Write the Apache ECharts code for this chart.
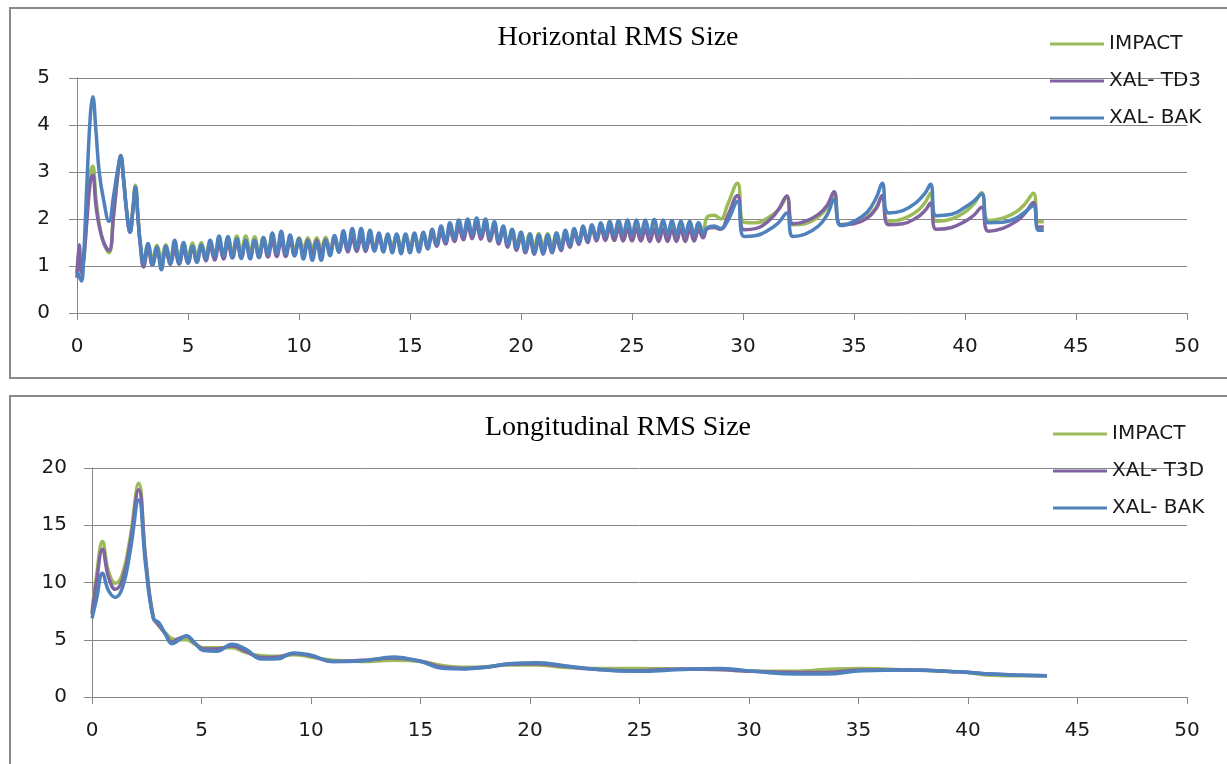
<!DOCTYPE html>
<html>
<head>
<meta charset="utf-8">
<script src="https://cdn.jsdelivr.net/npm/echarts@6.0.0/dist/echarts.min.js"></script>
<style>
  html, body { margin: 0; padding: 0; background: #fff; }
  #chart { width: 1227px; height: 764px; }
</style>
</head>
<body>
<div id="chart"></div>
<script>
// ---- Horizontal RMS size (top panel) ----
var hX = [
  0, 0.1, 0.2, 0.3, 0.45, 0.6, 0.71, 0.85, 1.0, 1.2, 1.44, 1.65, 1.85, 1.97, 2.1, 2.25, 2.39, 2.52, 2.63, 2.75, 2.85,
  3.0, 3.2, 3.4, 3.6, 3.8, 4.0, 4.2, 4.4, 4.6, 4.8, 5.0, 5.2, 5.4, 5.6, 5.8, 6.0, 6.2, 6.4, 6.6, 6.8,
  7.0, 7.2, 7.4, 7.6, 7.8, 8.0, 8.2, 8.4, 8.6, 8.8, 9.0, 9.2, 9.4, 9.6, 9.8, 10.0, 10.2, 10.4, 10.6, 10.8,
  11.0, 11.2, 11.4, 11.6, 11.8, 12.0, 12.2, 12.4, 12.6, 12.8, 13.0, 13.2, 13.4, 13.6, 13.8, 14.0, 14.2, 14.4, 14.6, 14.8,
  15.0, 15.2, 15.4, 15.6, 15.8, 16.0, 16.2, 16.4, 16.6, 16.8, 17.0, 17.2, 17.4, 17.6, 17.8, 18.0, 18.2, 18.4, 18.6, 18.8,
  19.0, 19.2, 19.4, 19.6, 19.8, 20.0, 20.2, 20.4, 20.6, 20.8, 21.0, 21.2, 21.4, 21.6, 21.8, 22.0, 22.2, 22.4, 22.6, 22.8,
  23.0, 23.2, 23.4, 23.6, 23.8, 24.0, 24.2, 24.4, 24.6, 24.8, 25.0, 25.2, 25.4, 25.6, 25.8, 26.0, 26.2, 26.4, 26.6, 26.8,
  27.0, 27.2, 27.4, 27.6, 27.8, 28.0, 28.2,
  28.4, 28.7, 29.0, 29.3, 29.75, 30.05, 30.6, 31.2, 31.6, 31.97, 32.25, 32.8, 33.4, 33.8, 34.1, 34.4, 35.0, 35.6, 36.0, 36.27,
  36.55, 37.2, 37.8, 38.2, 38.45, 38.7, 39.4, 40.0, 40.4, 40.75, 41.05, 41.7, 42.3, 42.7, 43.08, 43.3, 43.55
];
var hImpact = [
  0.85, 1.3, 0.9, 1.15, 2.1, 2.95, 3.12, 2.45, 1.9, 1.5, 1.28, 2.1, 3.0, 3.32, 2.85, 2.12, 1.72, 2.25, 2.72, 2.05, 1.48,
  1.14, 1.45, 1.15, 1.44, 1.16, 1.45, 1.17, 1.46, 1.19, 1.48, 1.20, 1.49, 1.21, 1.50, 1.22, 1.52, 1.24, 1.55, 1.27, 1.60,
  1.29, 1.64, 1.30, 1.64, 1.30, 1.62, 1.30, 1.61, 1.31, 1.61, 1.32, 1.61, 1.33, 1.61, 1.35, 1.60, 1.36, 1.60, 1.37, 1.60,
  1.37, 1.61, 1.38, 1.62, 1.39, 1.63, 1.40, 1.64, 1.40, 1.64, 1.40, 1.64, 1.41, 1.65, 1.42, 1.66, 1.42, 1.67, 1.42, 1.67,
  1.43, 1.68, 1.44, 1.69, 1.46, 1.72, 1.50, 1.76, 1.54, 1.80, 1.58, 1.84, 1.61, 1.87, 1.62, 1.88, 1.61, 1.87, 1.58, 1.84,
  1.54, 1.80, 1.50, 1.76, 1.46, 1.72, 1.43, 1.69, 1.42, 1.69, 1.42, 1.69, 1.43, 1.70, 1.46, 1.73, 1.49, 1.76, 1.52, 1.79,
  1.54, 1.82, 1.55, 1.84, 1.55, 1.84, 1.55, 1.84, 1.55, 1.84, 1.55, 1.84, 1.55, 1.85, 1.56, 1.85, 1.56, 1.86, 1.57, 1.87,
  1.58, 1.88, 1.59, 1.90, 1.60, 1.92, 1.75,
  2.05, 2.08, 2.0, 2.3, 2.76, 1.93, 1.92, 2.05, 2.2, 2.45, 1.88, 1.90, 2.05, 2.25, 2.5, 1.88, 1.92, 2.05, 2.25, 2.48,
  1.95, 2.0, 2.15, 2.35, 2.55, 1.95, 2.0, 2.15, 2.32, 2.56, 1.97, 2.02, 2.15, 2.32, 2.55, 1.94, 1.94
];
var hTd3 = [
  0.75, 1.45, 0.85, 1.1, 2.0, 2.8, 2.93, 2.3, 1.85, 1.5, 1.33, 2.1, 3.0, 3.35, 2.85, 2.1, 1.72, 2.2, 2.65, 2.0, 1.45,
  0.98, 1.35, 1.02, 1.32, 1.03, 1.33, 1.03, 1.33, 1.04, 1.35, 1.06, 1.38, 1.09, 1.41, 1.11, 1.43, 1.13, 1.45, 1.15, 1.48,
  1.17, 1.50, 1.18, 1.52, 1.18, 1.52, 1.18, 1.52, 1.19, 1.53, 1.20, 1.53, 1.20, 1.54, 1.22, 1.54, 1.24, 1.55, 1.25, 1.55,
  1.26, 1.56, 1.28, 1.57, 1.29, 1.59, 1.30, 1.60, 1.31, 1.60, 1.31, 1.60, 1.32, 1.61, 1.33, 1.62, 1.33, 1.62, 1.33, 1.62,
  1.34, 1.63, 1.35, 1.65, 1.38, 1.68, 1.42, 1.72, 1.47, 1.77, 1.52, 1.82, 1.56, 1.86, 1.58, 1.88, 1.57, 1.87, 1.53, 1.83,
  1.47, 1.77, 1.40, 1.70, 1.33, 1.62, 1.28, 1.57, 1.25, 1.55, 1.25, 1.55, 1.28, 1.58, 1.33, 1.64, 1.40, 1.70, 1.46, 1.76,
  1.50, 1.80, 1.53, 1.82, 1.54, 1.82, 1.54, 1.80, 1.53, 1.79, 1.53, 1.79, 1.53, 1.78, 1.52, 1.78, 1.52, 1.78, 1.52, 1.78,
  1.52, 1.78, 1.52, 1.78, 1.53, 1.77, 1.60,
  1.8, 1.82, 1.78, 2.05, 2.5, 1.77, 1.8, 1.98, 2.2, 2.49, 1.9, 1.95, 2.1, 2.3, 2.58, 1.88, 1.9, 2.02, 2.22, 2.5,
  1.88, 1.9, 2.02, 2.18, 2.34, 1.78, 1.82, 1.95, 2.08, 2.25, 1.74, 1.8, 1.95, 2.12, 2.35, 1.83, 1.83
];
var hBak = [
  0.88, 0.78, 0.68, 1.2, 2.8, 4.2, 4.6, 3.9, 3.0, 2.4, 1.95, 2.5, 3.1, 3.33, 2.8, 2.1, 1.72, 2.2, 2.68, 2.0, 1.5,
  1.05, 1.48, 1.02, 1.40, 0.92, 1.42, 1.05, 1.55, 1.05, 1.50, 1.06, 1.42, 1.08, 1.45, 1.15, 1.55, 1.20, 1.64, 1.22, 1.63,
  1.18, 1.58, 1.16, 1.55, 1.15, 1.55, 1.18, 1.60, 1.25, 1.70, 1.28, 1.74, 1.26, 1.66, 1.22, 1.58, 1.15, 1.52, 1.12, 1.50,
  1.12, 1.55, 1.22, 1.65, 1.30, 1.75, 1.36, 1.80, 1.38, 1.80, 1.36, 1.76, 1.32, 1.70, 1.30, 1.68, 1.28, 1.68, 1.26, 1.68,
  1.28, 1.70, 1.30, 1.72, 1.36, 1.78, 1.45, 1.85, 1.52, 1.92, 1.60, 1.98, 1.66, 2.00, 1.68, 2.02, 1.66, 2.00, 1.60, 1.94,
  1.52, 1.85, 1.45, 1.78, 1.38, 1.72, 1.32, 1.68, 1.28, 1.66, 1.28, 1.66, 1.30, 1.70, 1.38, 1.76, 1.45, 1.80, 1.50, 1.85,
  1.55, 1.88, 1.60, 1.92, 1.64, 1.95, 1.66, 1.97, 1.68, 1.98, 1.68, 1.98, 1.68, 1.98, 1.68, 1.99, 1.68, 1.98, 1.68, 1.97,
  1.68, 1.96, 1.68, 1.95, 1.68, 1.92, 1.70,
  1.82, 1.85, 1.8, 1.95, 2.37, 1.63, 1.65, 1.78, 1.92, 2.13, 1.63, 1.68, 1.85, 2.1, 2.41, 1.86, 1.95, 2.15, 2.45, 2.76,
  2.13, 2.18, 2.35, 2.55, 2.74, 2.07, 2.1, 2.25, 2.38, 2.53, 1.92, 1.93, 2.02, 2.15, 2.28, 1.76, 1.76
];

// ---- Longitudinal RMS size (bottom panel) ----
var lX = [
  0, 0.2, 0.48, 0.75, 1.07, 1.4, 1.75, 2.13, 2.45, 2.8, 3.05, 3.35, 3.65, 3.95, 4.3, 4.7, 5.1, 5.7, 6.4, 7.0,
  7.75, 8.5, 9.2, 10.0, 11.0, 12.3, 13.8, 15.0, 16.0, 17.0, 18.0, 19.0, 20.3, 21.5, 22.8, 24.8, 27.0, 28.6, 30.2, 32.2,
  33.5, 35.2, 37.3, 39.6, 41.1, 42.5, 43.6
];
var lImpact = [
  7.45, 10.5, 13.57, 11.0, 9.93, 10.8, 14.0, 18.66, 12.0, 7.0, 6.2, 5.6, 5.1, 5.0, 5.0, 4.6, 4.3, 4.3, 4.3, 3.9,
  3.6, 3.55, 3.7, 3.5, 3.2, 3.1, 3.2, 3.1, 2.75, 2.6, 2.65, 2.8, 2.8, 2.6, 2.5, 2.5, 2.45, 2.4, 2.25, 2.25,
  2.4, 2.5, 2.35, 2.2, 1.9, 1.85, 1.85
];
var lT3d = [
  7.2, 10.0, 12.9, 10.5, 9.4, 10.3, 13.5, 18.1, 12.0, 6.9, 6.3, 5.5, 4.8, 5.1, 5.3, 4.7, 4.2, 4.2, 4.45, 4.0,
  3.45, 3.5, 3.8, 3.6, 3.1, 3.2, 3.4, 3.15, 2.6, 2.5, 2.6, 2.85, 2.9, 2.7, 2.45, 2.3, 2.45, 2.4, 2.25, 2.15,
  2.15, 2.35, 2.35, 2.2, 2.0, 1.9, 1.85
];
var lBak = [
  6.87, 8.5, 10.8, 9.3, 8.7, 9.6, 12.8, 17.2, 11.5, 6.87, 6.5, 5.5, 4.65, 4.95, 5.35, 4.7, 4.05, 4.0, 4.6, 4.2,
  3.32, 3.35, 3.85, 3.65, 3.1, 3.15, 3.5, 3.1, 2.5, 2.45, 2.6, 2.9, 3.0, 2.75, 2.45, 2.25, 2.4, 2.5, 2.25, 2.0,
  2.0, 2.3, 2.35, 2.2, 2.0, 1.9, 1.85
];

var GREEN = '#9BBB59', PURPLE = '#8064A2', BLUE = '#4F81BD';
var GRAY = '#868686';

function pairs(xs, ys) {
  return xs.map(function (x, i) { return [x, ys[i]]; });
}

function xAxisFor(idx) {
  return {
    type: 'value', gridIndex: idx, min: 0, max: 50, interval: 5,
    axisLine: { show: true, lineStyle: { color: GRAY, width: 1 } },
    axisTick: { show: true, length: 7, lineStyle: { color: GRAY } },
    axisLabel: { margin: 24, fontFamily: 'DejaVu Sans', fontSize: 20, color: '#1a1a1a' },
    splitLine: { show: false }
  };
}
function yAxisFor(idx, max, step, margin) {
  return {
    type: 'value', gridIndex: idx, min: 0, max: max, interval: step,
    axisLine: { show: true, lineStyle: { color: GRAY, width: 1 } },
    axisTick: { show: true, length: 8, lineStyle: { color: GRAY } },
    axisLabel: { margin: margin, fontFamily: 'DejaVu Sans', fontSize: 20, color: '#1a1a1a' },
    splitLine: { show: true, lineStyle: { color: GRAY, width: 1 } }
  };
}
function line(name, idx, xs, ys, color) {
  return {
    name: name, type: 'line', xAxisIndex: idx, yAxisIndex: idx,
    data: pairs(xs, ys), showSymbol: false, smooth: 0.45,
    lineStyle: { width: 3.5, color: color }, itemStyle: { color: color }
  };
}
function legendFor(names, left, top) {
  return {
    data: names, orient: 'vertical', left: left, top: top,
    icon: 'rect', itemWidth: 54, itemHeight: 3, itemGap: 17,
    selectedMode: false,
    textStyle: { fontFamily: 'DejaVu Sans', fontSize: 20, lineHeight: 20, color: '#1a1a1a' }
  };
}
function titleText(text, x, y) {
  return {
    type: 'text', x: x, y: y, z: 10,
    style: {
      text: text, font: '28px "Liberation Serif"', fill: '#000',
      align: 'center', verticalAlign: 'middle', textAlign: 'center', textVerticalAlign: 'middle'
    }
  };
}

var chart = echarts.init(document.getElementById('chart'));
chart.setOption({
  animation: false,
  backgroundColor: '#fff',
  graphic: [
    { type: 'rect', shape: { x: 10, y: 8, width: 1240, height: 370 }, style: { fill: 'none', stroke: '#8a8a8a', lineWidth: 2 }, z: -1 },
    { type: 'rect', shape: { x: 10, y: 396, width: 1240, height: 400 }, style: { fill: 'none', stroke: '#8a8a8a', lineWidth: 2 }, z: -1 },
    titleText('Horizontal RMS Size', 618, 38),
    titleText('Longitudinal RMS Size', 618, 428)
  ],
  grid: [
    { left: 77, right: 40, top: 78, height: 235 },
    { left: 92, right: 40, top: 468, height: 229 }
  ],
  xAxis: [xAxisFor(0), xAxisFor(1)],
  yAxis: [yAxisFor(0, 5, 1, 27), yAxisFor(1, 20, 5, 25)],
  legend: [
    legendFor(['IMPACT', 'XAL- TD3', 'XAL- BAK'], 1045, 29),
    legendFor(['IMPACT', 'XAL- T3D', 'XAL- BAK'], 1048, 419)
  ],
  series: [
    line('IMPACT', 0, hX, hImpact, GREEN),
    line('XAL- TD3', 0, hX, hTd3, PURPLE),
    line('XAL- BAK', 0, hX, hBak, BLUE),
    line('IMPACT', 1, lX, lImpact, GREEN),
    line('XAL- T3D', 1, lX, lT3d, PURPLE),
    line('XAL- BAK', 1, lX, lBak, BLUE)
  ]
});
</script>
</body>
</html>
